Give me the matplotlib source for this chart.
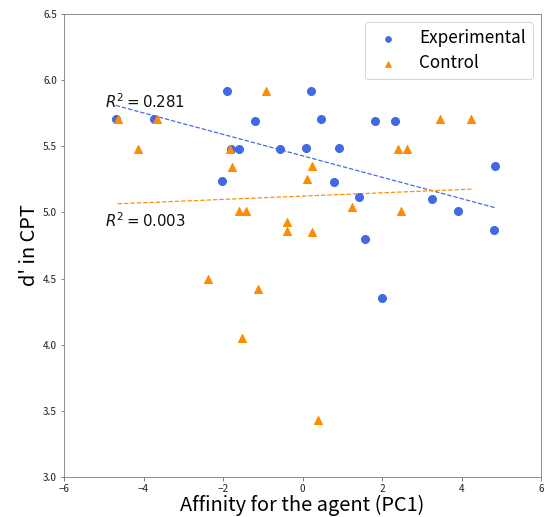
import numpy as np
import matplotlib
matplotlib.use("Agg")
import matplotlib.pyplot as plt

plt.rcParams['font.family'] = ['Noto Sans CJK JP', 'DejaVu Sans']

# Experimental group
exp_x = [-4.70, -3.73, -1.90, -1.19, -1.80, -1.60, -0.56, 0.09, -2.02, 0.22, 0.47,
         1.82, 2.32, 0.93, 0.79, 1.43, 3.26, 3.91, 4.85, 4.83, 1.57, 2.00]
exp_y = [5.71, 5.71, 5.92, 5.69, 5.48, 5.48, 5.48, 5.49, 5.24, 5.92, 5.71,
         5.69, 5.69, 5.49, 5.23, 5.12, 5.10, 5.01, 5.35, 4.87, 4.80, 4.35]

# Control group
ctl_x = [-4.65, -3.66, -4.15, -0.91, -1.83, -1.78, -1.60, -1.42, -0.40, -0.38, 0.12,
         0.245, 1.24, 2.47, 2.39, 2.63, 3.45, 4.25, 0.25, -2.37, -1.11, -1.52, 0.39]
ctl_y = [5.71, 5.71, 5.48, 5.92, 5.48, 5.345, 5.01, 5.01, 4.93, 4.86, 5.25,
         5.35, 5.04, 5.01, 5.48, 5.48, 5.71, 5.71, 4.85, 4.50, 4.42, 4.05, 3.43]

r2_labels = ["$R^2 = 0.281$", "$R^2 = 0.003$"]
r2_pos = [(-4.98, 5.84), (-4.98, 4.94)]

blue = '#4169E1'
orange = '#FF8C00'

fig = plt.figure(figsize=(546/72, 517/72), dpi=72)
ax = fig.add_axes([64/546, 40/517, 477/546, 463/517])

ax.scatter(exp_x, exp_y, s=64, color=blue, marker='o', label='Experimental', zorder=3)
ax.scatter(ctl_x, ctl_y, s=64, color=orange, marker='^', label='Control', zorder=3)

for xs, ys, c in [(exp_x, exp_y, blue), (ctl_x, ctl_y, orange)]:
    xs = np.array(xs); ys = np.array(ys)
    k, b = np.polyfit(xs, ys, 1)
    xx = np.array([xs.min(), xs.max()])
    ax.plot(xx, k * xx + b, '--', color=c, lw=1.2, zorder=2)

for lab, (tx, ty) in zip(r2_labels, r2_pos):
    ax.text(tx, ty, lab, fontsize=15, va='center', ha='left', color='#111111')

ax.set_xlim(-6, 6)
ax.set_ylim(3.0, 6.5)
ax.set_xticks([-6, -4, -2, 0, 2, 4, 6])
ax.set_yticks([3.0, 3.5, 4.0, 4.5, 5.0, 5.5, 6.0, 6.5])
ax.set_yticklabels(['3.0', '3.5', '4.0', '4.5', '5.0', '5.5', '6.0', '6.5'])
ax.tick_params(labelsize=10, colors='#222222', color='#666666')
for sp in ax.spines.values():
    sp.set_color('#777777')

ax.set_xlabel('Affinity for the agent (PC1)', fontsize=20, labelpad=1)
ax.set_ylabel("d' in CPT", fontsize=20, labelpad=3)

ax.legend(loc='upper right', fontsize=17, markerscale=0.7, frameon=True,
          labelspacing=0.4)

fig.savefig('out.png', dpi=72)
